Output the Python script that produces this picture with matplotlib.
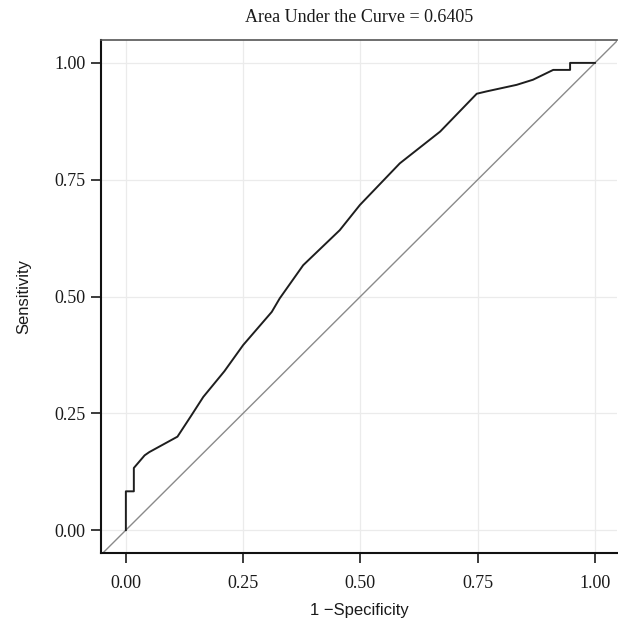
import matplotlib
matplotlib.use("Agg")
import matplotlib.pyplot as plt

# ROC curve points (1 - specificity, sensitivity)
fpr = [0.0, 0.0, 0.017, 0.017, 0.040, 0.050, 0.110, 0.140, 0.165, 0.210, 0.250,
       0.311, 0.328, 0.378, 0.456, 0.499, 0.584, 0.670, 0.748, 0.769, 0.833,
       0.868, 0.911, 0.947, 0.947, 1.0]
tpr = [0.0, 0.083, 0.083, 0.133, 0.160, 0.167, 0.200, 0.246, 0.285, 0.340, 0.396,
       0.467, 0.496, 0.567, 0.642, 0.696, 0.785, 0.853, 0.934, 0.939, 0.953,
       0.964, 0.985, 0.985, 1.0, 1.0]
ticks = [0.0, 0.25, 0.5, 0.75, 1.0]
tick_labels = ["0.00", "0.25", "0.50", "0.75", "1.00"]
auc_text = "Area Under the Curve = 0.6405"

fig = plt.figure(figsize=(6.18, 6.18), dpi=100)
ax = fig.add_axes([101/618, 1 - 553/618, (617 - 101)/618, (553 - 40)/618])

ax.set_xlim((-0.053, 1.047))
ax.set_ylim((-0.049, 1.049))

ax.grid(True, color="#ebebeb", linewidth=0.9)
ax.set_axisbelow(True)

ax.plot([-0.1, 1.1], [-0.1, 1.1], color="#8a8a8a", linewidth=1.0, zorder=2)
ax.plot(fpr, tpr, color="#1e1e1e", linewidth=1.4, zorder=3)

ax.set_xticks(ticks)
ax.set_xticklabels(tick_labels)
ax.set_yticks(ticks)
ax.set_yticklabels(tick_labels)
for lab in ax.get_xticklabels() + ax.get_yticklabels():
    lab.set_fontfamily("Liberation Serif")
    lab.set_fontsize(13)
    lab.set_color("#1a1a1a")
ax.tick_params(axis="both", direction="out", length=7, width=1.2, color="#1a1a1a")
ax.tick_params(axis="x", pad=9)
ax.tick_params(axis="y", pad=4)

for side in ["left", "bottom"]:
    ax.spines[side].set_color("#111111")
    ax.spines[side].set_linewidth(1.5)
ax.spines["top"].set_color("#555555")
ax.spines["top"].set_linewidth(1.2)
ax.spines["right"].set_visible(False)

ax.set_title(auc_text, fontfamily="Liberation Serif", fontsize=13, pad=13, color="#1a1a1a")
ax.set_xlabel("1 \u2212Specificity", fontfamily="Liberation Sans", fontsize=12, labelpad=8, color="#1a1a1a")
ax.set_ylabel("Sensitivity", fontfamily="Liberation Sans", fontsize=12, labelpad=17, color="#1a1a1a")

fig.savefig("out.png", dpi=100)
